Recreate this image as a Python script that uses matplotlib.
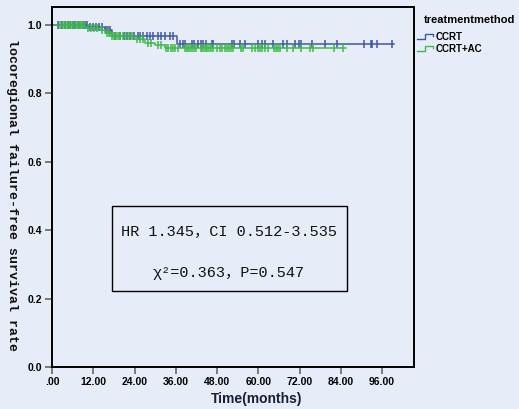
import numpy as np
import matplotlib
matplotlib.use('Agg')
import matplotlib.pyplot as plt
from matplotlib.lines import Line2D
from matplotlib.patches import Rectangle

# step curves (months, survival)
blue_t = [0, 10.5, 15.4, 17.5, 36.4]
blue_s = [1.0, 0.994, 0.985, 0.968, 0.944]
blue_end = 99.5
green_t = [0, 9.6, 14.0, 15.4, 16.9, 24.1, 27.1, 30.0, 32.9]
green_s = [1.0, 0.993, 0.985, 0.977, 0.968, 0.958, 0.948, 0.942, 0.934]
green_end = 85.5

# censored times
blue_cens = [1.7, 2.9, 3.8, 4.7, 5.2, 6.1, 6.7, 7.6, 8.1, 9.0, 9.6, 10.2,
             11.1, 11.9, 12.8, 13.7, 14.5, 15.7, 16.3, 16.9, 18.3, 19.8, 20.9,
             21.8, 22.7, 23.9, 25.0, 25.6, 26.5, 27.6, 28.5, 29.4, 30.8, 31.7,
             32.9, 34.3, 35.2, 37.2, 38.2, 38.7, 40.6, 41.3, 42.6, 43.3, 44.0,
             44.7, 46.5, 46.9, 52.3, 52.9, 54.7, 56.1, 60.0, 61.0, 62.0, 64.4,
             67.3, 68.3, 70.7, 71.9, 72.4, 75.7, 79.4, 83.0, 90.8, 92.8, 93.1,
             94.6, 98.8]
green_cens = [2.3, 3.2, 3.8, 4.4, 4.9, 5.5, 6.1, 7.0, 7.6, 8.1, 8.7, 9.3,
              10.5, 11.3, 12.2, 13.1, 14.5, 16.0, 16.6, 17.5, 18.0, 18.6, 19.2,
              19.8, 20.7, 21.5, 22.4, 23.3, 24.7, 25.6, 26.5, 27.9, 28.8, 30.8,
              31.7, 33.2, 33.7, 34.6, 35.3, 35.8, 36.7, 38.7, 39.2, 39.7, 40.1,
              40.6, 41.3, 41.9, 43.3, 43.7, 44.2, 44.7, 45.2, 45.7, 46.2, 46.7,
              47.9, 48.9, 49.5, 50.3, 50.8, 51.5, 52.1, 52.7, 55.0, 55.5, 58.1,
              59.1, 60.0, 60.5, 61.0, 62.0, 62.9, 64.6, 65.2, 65.8, 66.3, 68.3,
              70.2, 72.4, 75.1, 75.8, 82.1, 84.7]

groups = ['CCRT', 'CCRT+AC']
colors = ['#3F56A8', '#3DBB47']
xticks = [0, 12, 24, 36, 48, 60, 72, 84, 96]
xticklabels = ['.00', '12.00', '24.00', '36.00', '48.00', '60.00', '72.00', '84.00', '96.00']
yticks = [0.0, 0.2, 0.4, 0.6, 0.8, 1.0]

bg = '#E6ECF8'
W, H = 519, 409
fig = plt.figure(figsize=(W / 100, H / 100), dpi=100, facecolor=bg)
ax = fig.add_axes([52 / W, 1 - 367 / H, (414 - 52) / W, (367 - 7) / H])
ax.set_facecolor(bg)


def surv_at(t, times, surv):
    i = np.searchsorted(times, t, side='right') - 1
    return np.array(surv)[i]


for times, surv, end, cens, c in [(blue_t, blue_s, blue_end, blue_cens, colors[0]),
                                  (green_t, green_s, green_end, green_cens, colors[1])]:
    x = list(times) + [end]
    y = list(surv) + [surv[-1]]
    ax.step(x, y, where='post', color=c, lw=1.1)
    ax.plot(cens, surv_at(np.array(cens), times, surv), ls='none', marker='|',
            ms=6, mew=1.1, color=c)

ax.set_xlim(0, 105.3)
ax.set_ylim(0, 1.053)
ax.set_xticks(xticks)
ax.set_xticklabels(xticklabels)
ax.set_yticks(yticks)
ax.set_yticklabels(['%.1f' % v for v in yticks])
for lab in ax.get_xticklabels() + ax.get_yticklabels():
    lab.set_fontsize(7.5)
    lab.set_fontweight('bold')
    lab.set_family('Liberation Sans')
ax.tick_params(length=5, width=1.2, color='#666666', pad=2)
for s in ax.spines.values():
    s.set_linewidth(1.4)

fig.text(12 / W, 1 - 195 / H, 'locoregional failure-free survival rate',
         rotation=270, ha='center', va='center', fontsize=9.5,
         family='Liberation Mono', fontweight='bold', color='#111111')
fig.text(257 / W, 1 - 399 / H, 'Time(months)', ha='center', va='center',
         fontsize=10, fontweight='bold', family='Liberation Sans', color='#1A1A3A')

# annotation box
ax.add_patch(Rectangle((112 / W, 1 - 291 / H), (347 - 112) / W, (291 - 206) / H,
                       transform=fig.transFigure, fill=False, lw=1.0, ec='black'))
fam = ['Liberation Mono', 'Noto Sans CJK SC']
fig.text(229 / W, 1 - 232 / H, 'HR 1.345，CI 0.512-3.535', ha='center', va='center',
         fontsize=11, family=fam, color='#111111')
fig.text(229 / W, 1 - 273 / H, 'χ²=0.363，P=0.547', ha='center', va='center',
         fontsize=11, family=fam, color='#111111')

# legend
fig.text(470 / W, 1 - 20 / H, 'treatmentmethod', ha='center', va='center',
         fontsize=8, fontweight='bold', family='Liberation Sans')
for k, (g, c) in enumerate(zip(groups, colors)):
    yb = 39 + k * 12
    lx = np.array([417, 425, 425, 433, 433]) / W
    ly = 1 - np.array([yb, yb, yb - 5, yb - 5, yb - 3]) / H
    fig.add_artist(Line2D(lx, ly, color=c, lw=1.0, transform=fig.transFigure))
    fig.text(436 / W, 1 - (yb - 1.5) / H, g, ha='left', va='center',
             fontsize=7, fontweight='bold', family='Liberation Sans')

fig.savefig('out.png', dpi=100, facecolor=bg)
